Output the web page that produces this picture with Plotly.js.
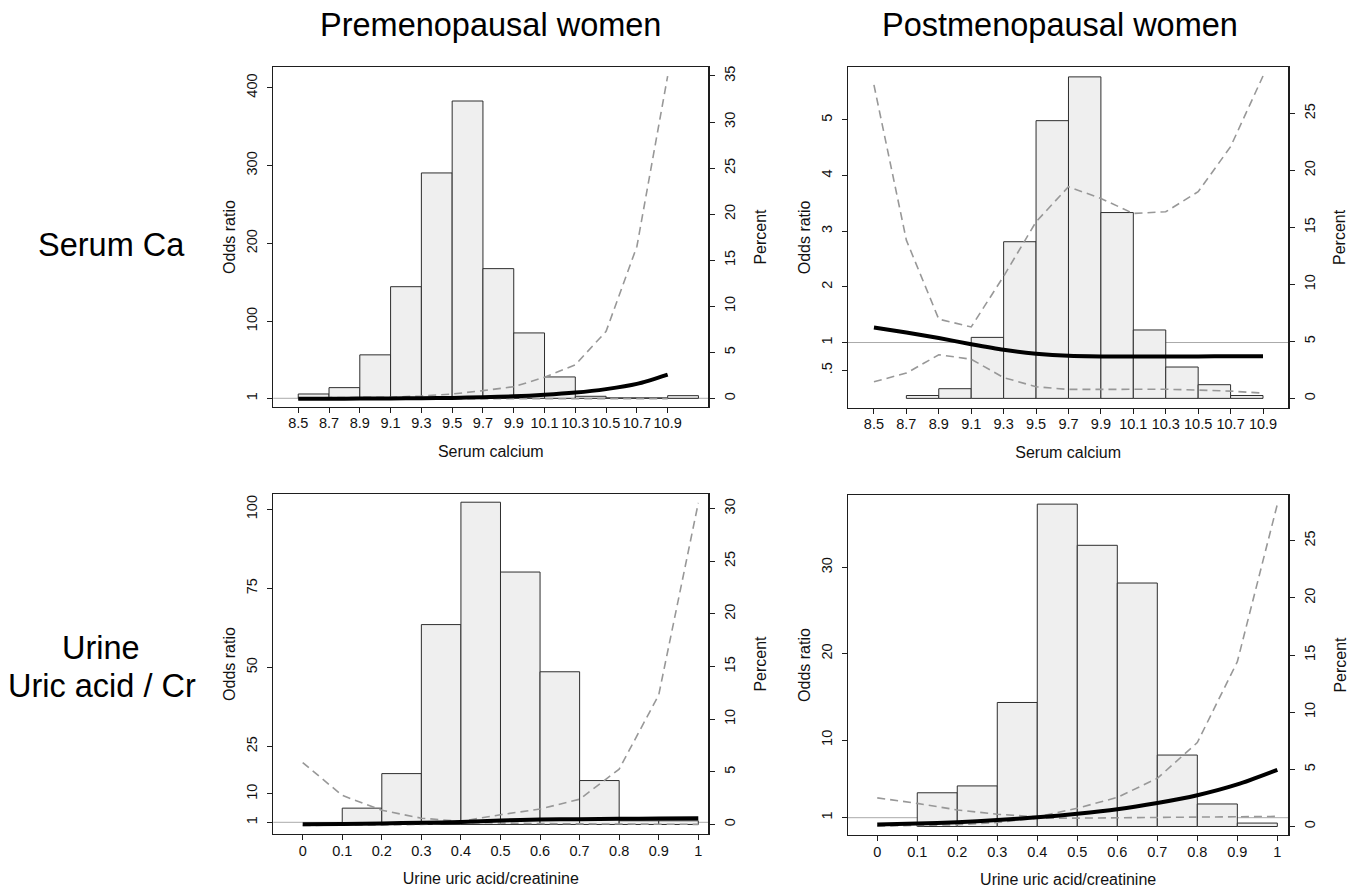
<!DOCTYPE html>
<html>
<head>
<meta charset="utf-8">
<script src="https://cdn.plot.ly/plotly-3.0.1.min.js"></script>
<style>
html,body{margin:0;padding:0;background:#ffffff;}
#chart{width:1349px;height:888px;}
</style>
</head>
<body>
<div id="chart"></div>
<script>
// ---------------- DATA ----------------
// Column / row labels
const columnTitles = ['Premenopausal women', 'Postmenopausal women'];
const rowTitleCa = 'Serum Ca';
const rowTitleUa1 = 'Urine';
const rowTitleUa2 = 'Uric acid / Cr';

// Serum calcium: histogram bins (left edges, width 0.2) and percent (null = empty bin)
const caBinStarts = [8.5, 8.7, 8.9, 9.1, 9.3, 9.5, 9.7, 9.9, 10.1, 10.3, 10.5, 10.7, 10.9];
const caBinWidth = 0.2;
const preCaPercent  = [0.47, 1.16, 4.72, 12.12, 24.47, 32.28, 14.08, 7.10, 2.32, 0.22, 0.05, 0.05, 0.29];
const postCaPercent = [null, 0.25, 0.85, 5.35, 13.74, 24.36, 28.20, 16.30, 6.00, 2.75, 1.20, 0.25, null];

// Serum calcium: odds ratio curves evaluated at tick points
const caPoints = [8.5, 8.7, 8.9, 9.1, 9.3, 9.5, 9.7, 9.9, 10.1, 10.3, 10.5, 10.7, 10.9];
const caTickText = ['8.5','8.7','8.9','9.1','9.3','9.5','9.7','9.9','10.1','10.3','10.5','10.7','10.9'];
const preCaOR    = [0.4, 0.5, 0.6, 0.8, 1.1, 1.5, 2.3, 3.5, 5.4, 8.3, 12.8, 19.5, 31.5];
const preCaUpper = [1.5, 1.6, 1.8, 2.4, 4.0, 6.5, 10.8, 15.9, 28, 44, 87, 196, 415];
const preCaLower = [0.1, 0.15, 0.2, 0.25, 0.3, 0.35, 0.4, 0.45, 0.5, 0.55, 0.6, 0.6, 0.6];
const postCaOR    = [1.27, 1.18, 1.08, 0.97, 0.87, 0.80, 0.76, 0.75, 0.75, 0.75, 0.75, 0.755, 0.755];
const postCaUpper = [5.63, 2.84, 1.42, 1.28, 2.19, 3.17, 3.80, 3.59, 3.32, 3.35, 3.71, 4.52, 5.79];
const postCaLower = [0.295, 0.45, 0.78, 0.70, 0.37, 0.205, 0.157, 0.157, 0.17, 0.16, 0.145, 0.127, 0.09];

// Urine uric acid / creatinine: histogram bins and percent (null = empty bin)
const uaBinStarts = [0, 0.1, 0.2, 0.3, 0.4, 0.5, 0.6, 0.7, 0.8, 0.9];
const uaBinWidth = 0.1;
const preUaPercent  = [null, 1.55, 4.83, 18.98, 30.60, 23.97, 14.50, 4.17, 0.35, 0.35];
const postUaPercent = [null, 2.95, 3.55, 10.85, 28.20, 24.60, 21.30, 6.25, 1.97, 0.30];

// Urine uric acid / creatinine: odds ratio curves
const uaPoints = [0, 0.1, 0.2, 0.3, 0.4, 0.5, 0.6, 0.7, 0.8, 0.9, 1];
const uaTickText = ['0','0.1','0.2','0.3','0.4','0.5','0.6','0.7','0.8','0.9','1'];
const preUaOR    = [0.4, 0.5, 0.65, 0.85, 1.1, 1.6, 1.85, 2.0, 2.1, 2.2, 2.3];
const preUaUpper = [19.9, 9.5, 4.8, 2.3, 1.3, 3.4, 5.2, 8.3, 17.8, 41.3, 102];
const preUaLower = [0.01, 0.03, 0.1, 0.3, 0.95, 0.7, 0.6, 0.5, 0.45, 0.4, 0.35];
const postUaOR    = [0.2, 0.32, 0.48, 0.72, 1.04, 1.45, 1.97, 2.7, 3.6, 4.85, 6.55];
const postUaUpper = [3.3, 2.66, 1.9, 1.4, 1.1, 2.1, 3.35, 5.56, 9.7, 19.07, 37.3];
const postUaLower = [0.02, 0.08, 0.18, 0.45, 0.95, 0.95, 1.0, 1.05, 1.1, 1.15, 1.15];

// Axis ticks
const preCaORTicks = [1, 100, 200, 300, 400];
const preCaORText  = ['1', '100', '200', '300', '400'];
const postCaORTicks = [0.5, 1, 2, 3, 4, 5];
const postCaORText  = ['.5', '1', '2', '3', '4', '5'];
const preUaORTicks = [1, 10, 25, 50, 75, 100];
const preUaORText  = ['1', '10', '25', '50', '75', '100'];
const postUaORTicks = [1, 10, 20, 30];
const postUaORText  = ['1', '10', '20', '30'];
const pctTicks35 = [0, 5, 10, 15, 20, 25, 30, 35];
const pctTicks30 = [0, 5, 10, 15, 20, 25, 30];
const pctTicks25 = [0, 5, 10, 15, 20, 25];

const refOR = 1;

// ---------------- STYLE / LAYOUT ----------------
const W = 1349, H = 888;
const FONT = 'Arial, "Liberation Sans", Helvetica, sans-serif';
const AXC = '#1e1e1e';
const BAR_FILL = '#efefef';
const BAR_LINE = '#2e2e2e';
const DASH_C = '#989898';

const panels = [
  { box:{l:273.3, r:708.3, t:67.3, b:406.7},
    xr:[8.338, 11.164], orr:[-9.8, 426.2], pr:[-0.91, 35.94],
    bins:caBinStarts, bw:caBinWidth, pct:preCaPercent,
    pts:caPoints, xt:caTickText, or:preCaOR, up:preCaUpper, lo:preCaLower,
    ort:preCaORTicks, ortx:preCaORText, pt:pctTicks35, xtitle:'Serum calcium' },
  { box:{l:848, r:1288.3, t:67.3, b:407.5},
    xr:[8.340, 11.056], orr:[-0.168, 5.947], pr:[-0.8, 29.04],
    bins:caBinStarts, bw:caBinWidth, pct:postCaPercent,
    pts:caPoints, xt:caTickText, or:postCaOR, up:postCaUpper, lo:postCaLower,
    ort:postCaORTicks, ortx:postCaORText, pt:pctTicks25, xtitle:'Serum calcium' },
  { box:{l:273.3, r:708.3, t:494, b:834},
    xr:[-0.0743, 1.0253], orr:[-2.70, 104.83], pr:[-0.905, 31.38],
    bins:uaBinStarts, bw:uaBinWidth, pct:preUaPercent,
    pts:uaPoints, xt:uaTickText, or:preUaOR, up:preUaUpper, lo:preUaLower,
    ort:preUaORTicks, ortx:preUaORText, pt:pctTicks30, xtitle:'Urine uric acid/creatinine' },
  { box:{l:848, r:1288.3, t:495, b:835},
    xr:[-0.0731, 1.0274], orr:[-1.004, 38.38], pr:[-0.744, 29.0],
    bins:uaBinStarts, bw:uaBinWidth, pct:postUaPercent,
    pts:uaPoints, xt:uaTickText, or:postUaOR, up:postUaUpper, lo:postUaLower,
    ort:postUaORTicks, ortx:postUaORText, pt:pctTicks25, xtitle:'Urine uric acid/creatinine' }
];

const traces = [];
const layout = {
  width: W, height: H,
  margin: {l:0, r:0, t:0, b:0},
  paper_bgcolor: '#ffffff',
  plot_bgcolor: 'rgba(0,0,0,0)',
  font: {family: FONT, color: '#000'},
  showlegend: false,
  shapes: [],
  annotations: []
};

panels.forEach((p, k) => {
  const i = k + 1;
  const xid = i === 1 ? 'x' : 'x' + i;
  const bIdx = 2 * i - 1, oIdx = 2 * i;
  const bid = bIdx === 1 ? 'y' : 'y' + bIdx;
  const oid = 'y' + oIdx;
  const xKey = i === 1 ? 'xaxis' : 'xaxis' + i;
  const bKey = bIdx === 1 ? 'yaxis' : 'yaxis' + bIdx;
  const oKey = 'yaxis' + oIdx;
  const xd = [p.box.l / W, p.box.r / W];
  const yd = [1 - p.box.b / H, 1 - p.box.t / H];

  const common = {
    showgrid:false, zeroline:false, showline:true, linecolor:AXC, linewidth:1.2,
    ticks:'outside', ticklen:5, tickwidth:1, tickcolor:AXC,
    tickfont:{family:FONT, size:14.5, color:'#111'}, fixedrange:true
  };

  layout[xKey] = Object.assign({}, common, {
    domain: xd, range: p.xr, anchor: bid, mirror: true,
    tickmode:'array', tickvals: p.pts, ticktext: p.xt,
    ticklabelstandoff: -2,
    title: {text: p.xtitle, font:{family:FONT, size:16, color:'#111'}, standoff: 15}
  });
  layout[bKey] = Object.assign({}, common, {
    domain: yd, range: p.pr, anchor: xid, side:'right',
    tickmode:'array', tickvals: p.pt, ticktext: p.pt.map(String),
    tickangle: -90, ticklabelstandoff: 3,
    title: {text:'Percent', font:{family:FONT, size:16, color:'#111'}, standoff: 17}
  });
  layout[oKey] = Object.assign({}, common, {
    range: p.orr, anchor: xid, overlaying: bid, side:'left',
    tickmode:'array', tickvals: p.ort, ticktext: p.ortx,
    tickangle: -90, ticklabelstandoff: 4,
    title: {text:'Odds ratio', font:{family:FONT, size:16, color:'#111'}, standoff: 4}
  });

  // histogram (percent axis)
  traces.push({
    type:'bar', x:p.bins, y:p.pct, width:p.bw, offset:0,
    xaxis:xid, yaxis:bid,
    marker:{color:BAR_FILL, line:{color:BAR_LINE, width:1}},
    hoverinfo:'skip'
  });
  // confidence limits (odds ratio axis)
  traces.push({
    type:'scatter', mode:'lines', x:p.pts, y:p.up, xaxis:xid, yaxis:oid,
    line:{color:DASH_C, width:1.6, dash:'8px,5px'}, hoverinfo:'skip'
  });
  traces.push({
    type:'scatter', mode:'lines', x:p.pts, y:p.lo, xaxis:xid, yaxis:oid,
    line:{color:DASH_C, width:1.6, dash:'8px,5px'}, hoverinfo:'skip'
  });
  // odds ratio
  traces.push({
    type:'scatter', mode:'lines', x:p.pts, y:p.or, xaxis:xid, yaxis:oid,
    line:{color:'#000', width:4, shape:'spline', smoothing:0.7}, hoverinfo:'skip'
  });
  // reference line OR = 1
  layout.shapes.push({
    type:'line', xref: xid + ' domain', x0:0, x1:1, yref:oid, y0:refOR, y1:refOR,
    line:{color:'#aaaaaa', width:1}, layer:'below'
  });
});

function ann(text, px, py, size) {
  return {text:text, xref:'paper', yref:'paper', x:px / W, y:1 - py / H,
          xanchor:'center', yanchor:'middle', showarrow:false,
          font:{family:FONT, size:size, color:'#000'}};
}
layout.annotations.push(ann(columnTitles[0], 490.5, 25, 32.5));
layout.annotations.push(ann(columnTitles[1], 1060, 25, 32.5));
layout.annotations.push(ann(rowTitleCa, 111, 245, 32.5));
layout.annotations.push(ann(rowTitleUa1, 101, 648, 32.5));
layout.annotations.push(ann(rowTitleUa2, 102, 686, 32.5));

Plotly.newPlot('chart', traces, layout, {staticPlot:true, displayModeBar:false});
</script>
</body>
</html>
